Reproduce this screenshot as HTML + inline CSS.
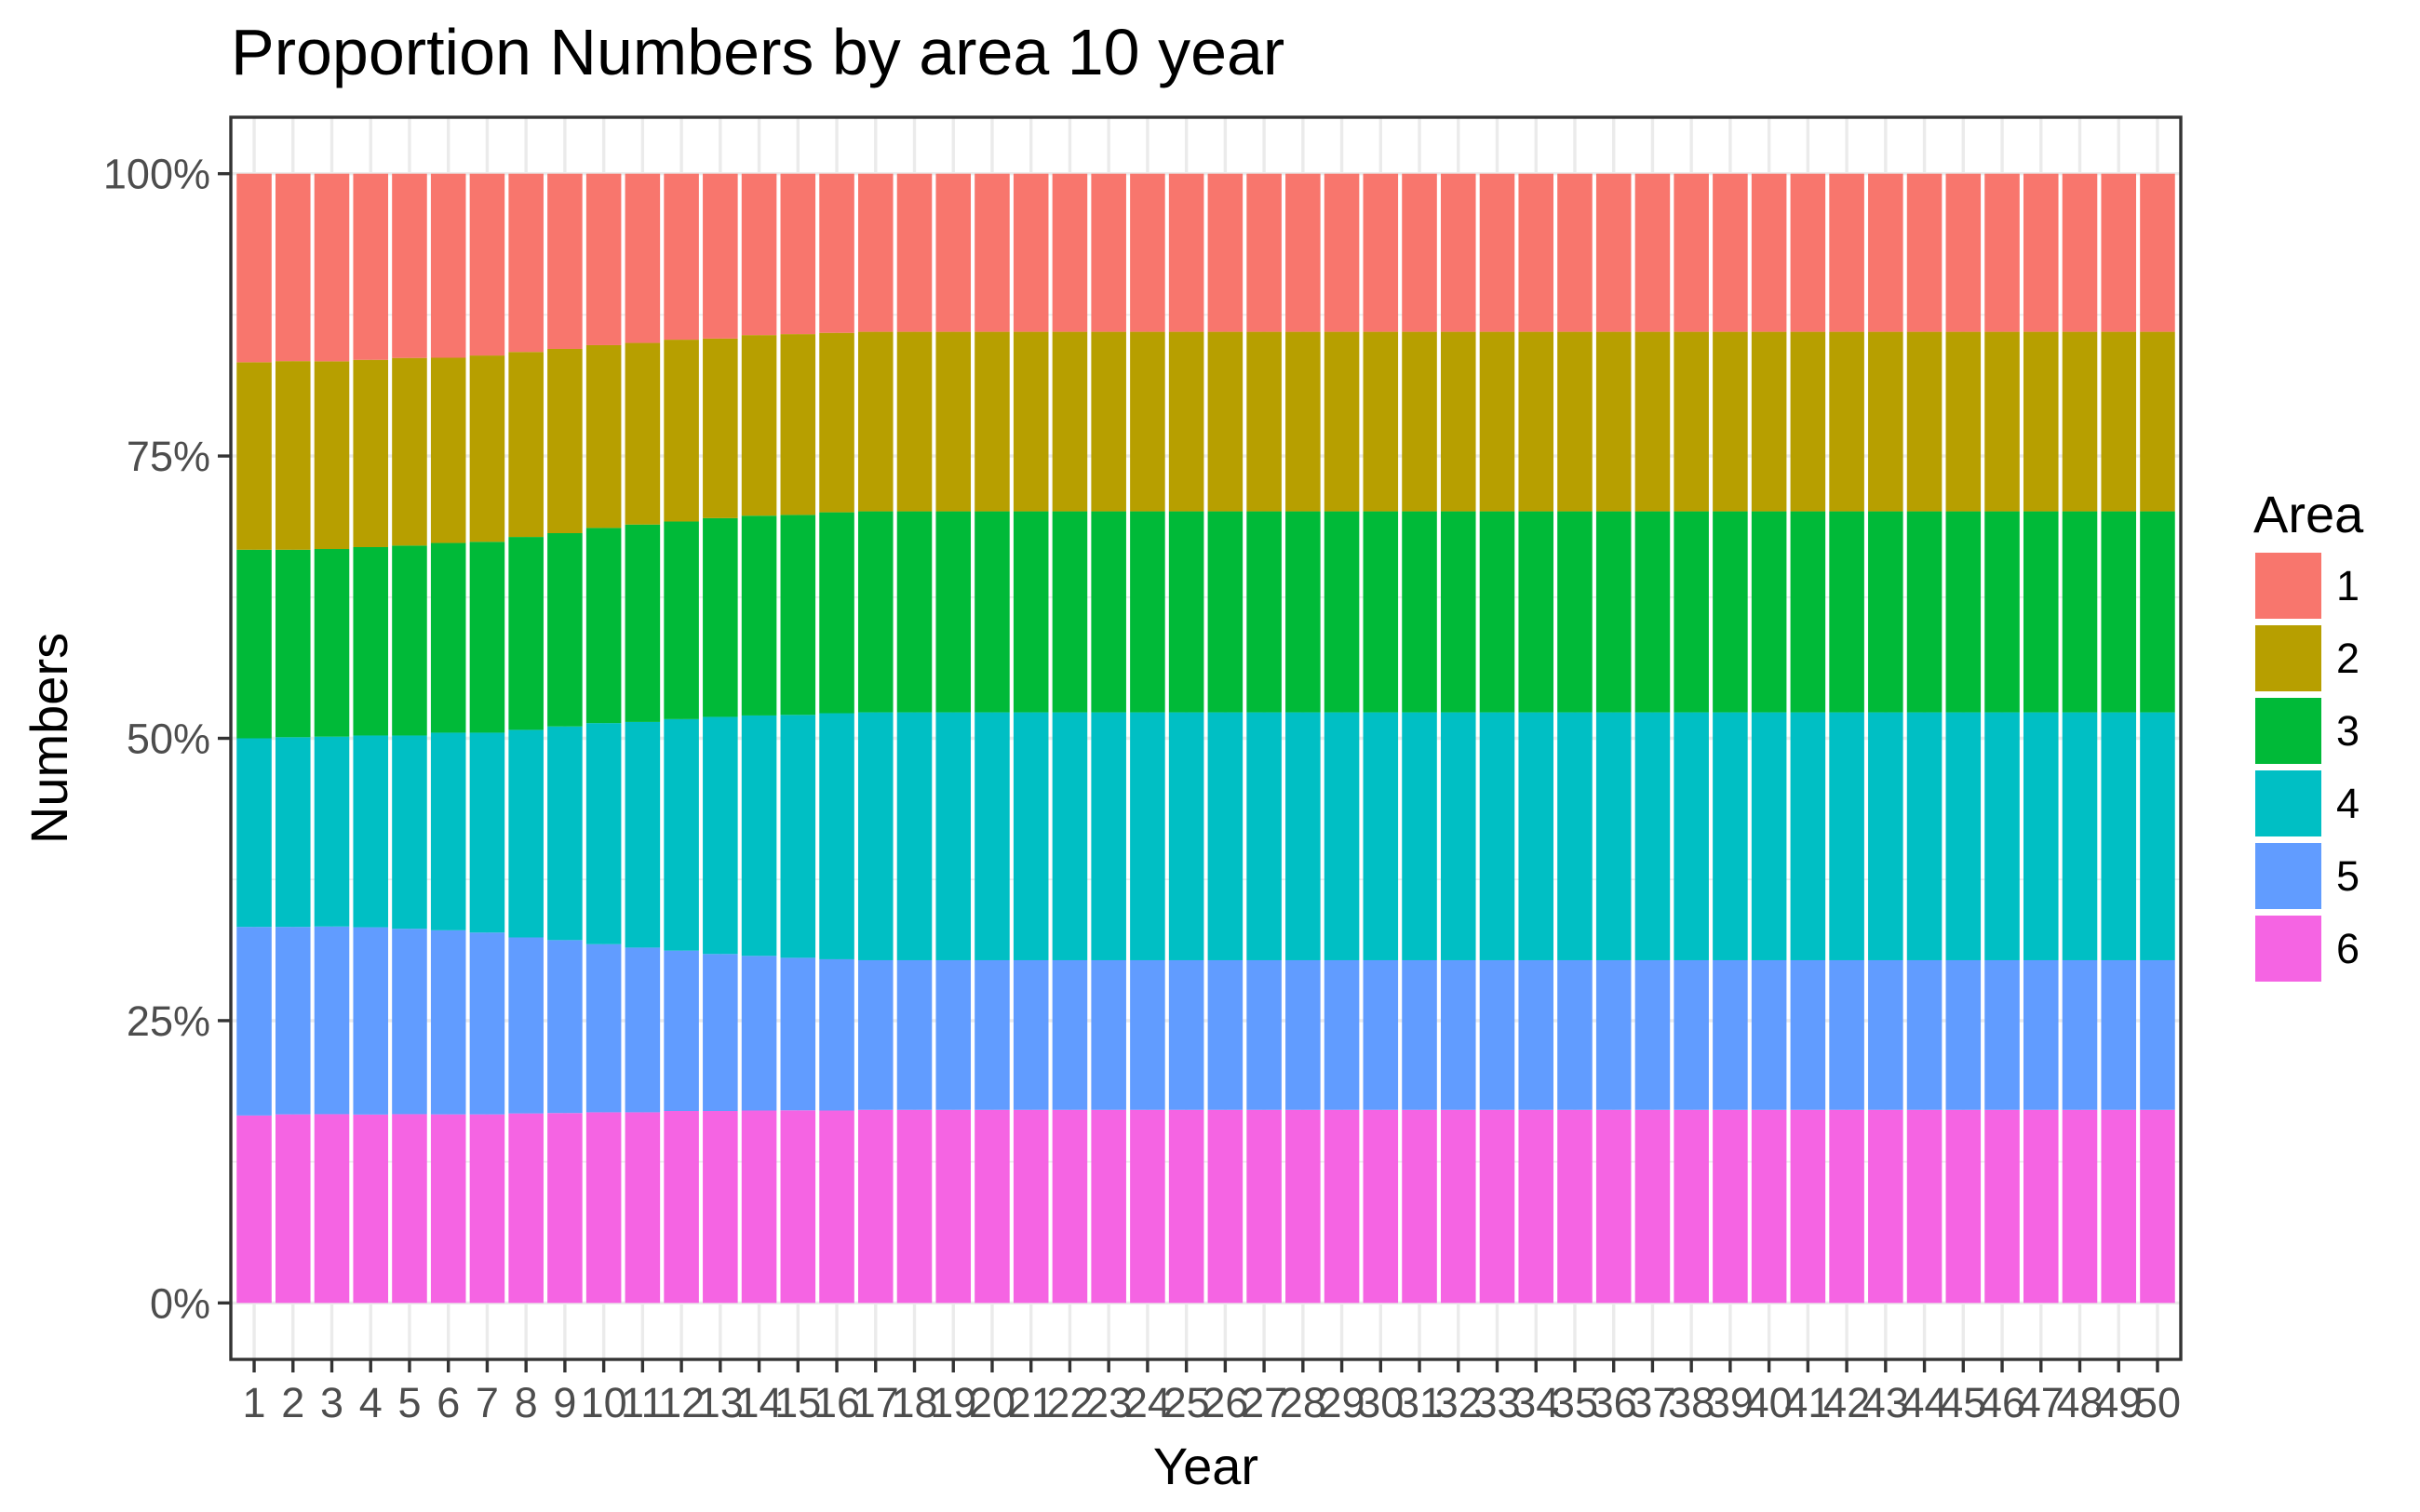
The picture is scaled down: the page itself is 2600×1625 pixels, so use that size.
<!DOCTYPE html>
<html><head><meta charset="utf-8"><style>
html,body{margin:0;padding:0;background:#fff;}
svg{display:block;font-family:"Liberation Sans",Arial,sans-serif;}
</style></head><body>
<svg id="chart" width="2600" height="1625" viewBox="0 0 2600 1625"></svg>
<script>
const years = Array.from({length:50},(_,i)=>String(i+1));
const areas = ["1","2","3","4","5","6"];
const colors = ["#F8766D","#B79F00","#00BA38","#00BFC4","#619CFF","#F564E3"];
const area1 = [16.7,16.6,16.6,16.5,16.3,16.3,16.1,15.8,15.5,15.2,15.0,14.7,14.6,14.3,14.2,14.1,14.0,14.0,14.0,14.0,14.0,14.0,14.0,14.0,14.0,14.0,14.0,14.0,14.0,14.0,14.0,14.0,14.0,14.0,14.0,14.0,14.0,14.0,14.0,14.0,14.0,14.0,14.0,14.0,14.0,14.0,14.0,14.0,14.0,14.0];
const area2 = [16.6,16.7,16.6,16.6,16.6,16.4,16.5,16.4,16.3,16.2,16.1,16.1,15.9,16.0,16.0,15.9,15.9,15.9,15.9,15.9,15.9,15.9,15.9,15.9,15.9,15.9,15.9,15.9,15.9,15.9,15.9,15.9,15.9,15.9,15.9,15.9,15.9,15.9,15.9,15.9,15.9,15.9,15.9,15.9,15.9,15.9,15.9,15.9,15.9,15.9];
const area3 = [16.7,16.6,16.6,16.7,16.8,16.8,16.9,17.1,17.1,17.3,17.5,17.5,17.6,17.7,17.7,17.8,17.8,17.8,17.8,17.8,17.8,17.8,17.8,17.8,17.8,17.8,17.8,17.8,17.8,17.8,17.8,17.8,17.8,17.8,17.8,17.8,17.8,17.8,17.8,17.8,17.8,17.8,17.8,17.8,17.8,17.8,17.8,17.8,17.8,17.8];
const area4 = [16.7,16.8,16.8,17.0,17.1,17.5,17.7,18.4,18.9,19.6,20.0,20.5,21.0,21.3,21.5,21.8,21.95,21.95,21.95,21.95,21.95,21.95,21.95,21.95,21.95,21.95,21.95,21.95,21.95,21.95,21.95,21.95,21.95,21.95,21.95,21.95,21.95,21.95,21.95,21.95,21.95,21.95,21.95,21.95,21.95,21.95,21.95,21.95,21.95,21.95];
const area5 = [16.7,16.6,16.6,16.6,16.4,16.3,16.1,15.6,15.3,14.9,14.6,14.2,13.9,13.7,13.5,13.4,13.25,13.25,13.25,13.25,13.25,13.25,13.25,13.25,13.25,13.25,13.25,13.25,13.25,13.25,13.25,13.25,13.25,13.25,13.25,13.25,13.25,13.25,13.25,13.25,13.25,13.25,13.25,13.25,13.25,13.25,13.25,13.25,13.25,13.25];
const area6 = [16.6,16.7,16.7,16.7,16.7,16.7,16.7,16.8,16.8,16.9,16.9,17.0,17.0,17.05,17.05,17.05,17.1,17.1,17.1,17.1,17.1,17.1,17.1,17.1,17.1,17.1,17.1,17.1,17.1,17.1,17.1,17.1,17.1,17.1,17.1,17.1,17.1,17.1,17.1,17.1,17.1,17.1,17.1,17.1,17.1,17.1,17.1,17.1,17.1,17.1];
const yTicks = [0,0.25,0.5,0.75,1];
const yTickLabels = ["0%","25%","50%","75%","100%"];

const NS="http://www.w3.org/2000/svg";
const svg=document.getElementById('chart');
const P={l:248,t:126,r:2343,b:1461};
const step=(P.r-P.l)/(years.length-1+1.2);
function xScale(i){return P.l+step*(0.6+i);}
const yUnit=(P.b-P.t)/1.1;
function yScale(v){return P.b-yUnit*(v+0.05);}
function mk(tag,attrs,parent){const e=document.createElementNS(NS,tag);for(const k in attrs)e.setAttribute(k,attrs[k]);(parent||svg).appendChild(e);return e;}

const bg=mk('rect',{x:P.l,y:P.t,width:P.r-P.l,height:P.b-P.t,fill:'#fff'});


for(let k=0;k<yTicks.length-1;k++){
  const v=(yTicks[k]+yTicks[k+1])/2;
  const g=mk('line',{x1:P.l,x2:P.r,y1:yScale(v),y2:yScale(v),stroke:'#EBEBEB','stroke-width':1.7});
  
  
}
yTicks.forEach(v=>{
  const g=mk('line',{x1:P.l,x2:P.r,y1:yScale(v),y2:yScale(v),stroke:'#EBEBEB','stroke-width':3.4});
  
  
});
years.forEach((y,i)=>{
  const g=mk('line',{x1:xScale(i),x2:xScale(i),y1:P.t,y2:P.b,stroke:'#EBEBEB','stroke-width':3.4});
  
  
});

const series=[area1,area2,area3,area4,area5,area6];
const bw=step*0.9;
years.forEach((yr,i)=>{
  let total=0;series.forEach(s=>total+=s[i]);
  let cum=0;
  for(let a=series.length-1;a>=0;a--){
    const v=series[a][i]/total;
    const y0=yScale(cum), y1=yScale(cum+v);
    const r=mk('rect',{x:xScale(i)-bw/2,y:y1,width:bw,height:y0-y1,fill:colors[a]});
    
    
    cum+=v;
  }
});

const bd=mk('rect',{x:P.l,y:P.t,width:P.r-P.l,height:P.b-P.t,fill:'none',stroke:'#333333','stroke-width':3.4});



yTicks.forEach((v,k)=>{
  const t=mk('line',{x1:P.l-14,x2:P.l,y1:yScale(v),y2:yScale(v),stroke:'#333333','stroke-width':3.4});
  
  
  const tx=mk('text',{x:P.l-22,y:yScale(v)+16,'text-anchor':'end','font-size':45,fill:'#4D4D4D'});
  tx.textContent=yTickLabels[k];
  
  
});
years.forEach((yr,i)=>{
  const t=mk('line',{x1:xScale(i),x2:xScale(i),y1:P.b,y2:P.b+14,stroke:'#333333','stroke-width':3.4});
  
  
  const tx=mk('text',{x:xScale(i),y:1523,'text-anchor':'middle','font-size':45,fill:'#4D4D4D'});
  tx.textContent=yr;
  
  
});

const title=mk('text',{x:P.l,y:80,'font-size':70,fill:'#000'});
title.textContent='Proportion Numbers by area 10 year';


const xt=mk('text',{x:(P.l+P.r)/2,y:1595,'text-anchor':'middle','font-size':56,fill:'#000'});
xt.textContent='Year';


const ytl=mk('text',{x:0,y:0,'text-anchor':'middle','font-size':56,fill:'#000',transform:'translate(72,'+((P.t+P.b)/2)+') rotate(-90)'});
ytl.textContent='Numbers';



const lt=mk('text',{x:2421,y:572,'font-size':56,fill:'#000'});
lt.textContent='Area';


areas.forEach((a,k)=>{
  const ky=594+k*78;
  const r=mk('rect',{x:2423,y:ky,width:71,height:71,fill:colors[k]});
  
  
  const tx=mk('text',{x:2510,y:ky+35+16,'font-size':45,fill:'#000'});
  tx.textContent=a;
  
  
});
</script>
</body></html>
